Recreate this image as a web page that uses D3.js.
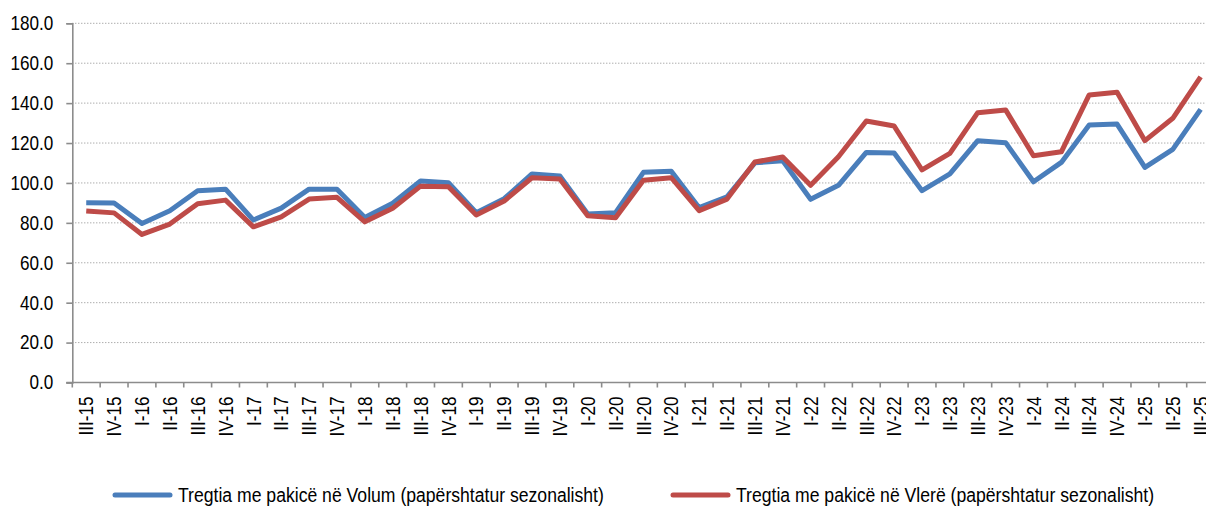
<!DOCTYPE html>
<html>
<head>
<meta charset="utf-8">
<script src="https://cdn.jsdelivr.net/npm/d3@7"></script>
<style>
  html, body { margin: 0; padding: 0; background: #fff; }
  svg { display: block; }
  text { font-family: "Liberation Sans", Arial, sans-serif; fill: #000; }
</style>
</head>
<body>
<svg id="chart" width="1206" height="508"></svg>
<script>
const quarters = [
  "III-15", "IV-15",
  "I-16", "II-16", "III-16", "IV-16",
  "I-17", "II-17", "III-17", "IV-17",
  "I-18", "II-18", "III-18", "IV-18",
  "I-19", "II-19", "III-19", "IV-19",
  "I-20", "II-20", "III-20", "IV-20",
  "I-21", "II-21", "III-21", "IV-21",
  "I-22", "II-22", "III-22", "IV-22",
  "I-23", "II-23", "III-23", "IV-23",
  "I-24", "II-24", "III-24", "IV-24",
  "I-25", "II-25", "III-25",
];

const volume = [
  90.1, 90.0,
  79.7, 86.1, 96.1, 96.9,
  81.4, 87.4, 96.9, 96.9,
  82.7, 89.8, 101.0, 100.1,
  85.1, 92.1, 104.5, 103.5,
  84.4, 85.1, 105.3, 105.8,
  87.6, 93.1, 110.1, 111.1,
  91.8, 98.8, 115.3, 115.0,
  96.1, 104.5, 121.2, 120.2,
  100.6, 110.3, 129.0, 129.5,
  107.8, 116.8, 136.9,
];

const value = [
  85.9, 85.0,
  74.2, 79.4, 89.6, 91.4,
  78.0, 83.0, 91.9, 92.8,
  80.5, 87.3, 98.4, 98.1,
  83.9, 90.9, 102.6, 102.0,
  83.6, 82.6, 101.3, 102.6,
  86.1, 91.9, 110.5, 113.0,
  98.8, 113.1, 131.0, 128.5,
  106.5, 114.8, 135.2, 136.6,
  113.6, 115.6, 144.1, 145.4,
  121.2, 132.4, 153.2,
];

const yTicks = [0, 20, 40, 60, 80, 100, 120, 140, 160, 180];

const seriesNames = [
  "Tregtia me pakicë në Volum (papërshtatur sezonalisht)",
  "Tregtia me pakicë në Vlerë (papërshtatur sezonalisht)",
];

const blue = "#4a7ebb";
const red = "#be4b48";
const axisGrey = "#8c8c8c";

const svg = d3.select("#chart");

const plotLeft = 72.3;
const step = 27.86;
const plotTop = 23.3;
const plotBottom = 382.5;

// the original uses a narrow face; squeeze Liberation Sans to match
const narrow = (sel, k = 0.855) =>
  sel.each(function () {
    const len = this.getComputedTextLength();
    d3.select(this)
      .attr("textLength", len * k)
      .attr("lengthAdjust", "spacingAndGlyphs");
  });

const x = d3
  .scaleBand()
  .domain(quarters)
  .range([plotLeft, plotLeft + step * quarters.length])
  .paddingInner(0)
  .paddingOuter(0);

const y = d3.scaleLinear().domain([0, 180]).range([plotBottom, plotTop]);

// gridlines
svg
  .append("g")
  .selectAll("line")
  .data(yTicks.filter((d) => d > 0))
  .join("line")
  .attr("x1", plotLeft)
  .attr("x2", 1206)
  .attr("y1", (d) => y(d))
  .attr("y2", (d) => y(d))
  .attr("stroke", "#8a8a8a")
  .attr("stroke-width", 1)
  .attr("stroke-dasharray", "1,2");

// y axis
const yAxis = d3
  .axisLeft(y)
  .tickValues(yTicks)
  .tickFormat(d3.format(".1f"))
  .tickSize(6)
  .tickPadding(13);

const gy = svg.append("g").attr("transform", `translate(${plotLeft},0)`).call(yAxis);
gy.select(".domain").attr("stroke", axisGrey).attr("stroke-width", 1.6);
gy.selectAll(".tick line").attr("stroke", axisGrey).attr("stroke-width", 1.6);
gy.selectAll(".tick text")
  .attr("font-size", 20)
  .attr("fill", "#000")
  .attr("font-family", null)
  .call(narrow);

// x axis: labels at band centres, ticks at band edges
const xAxis = d3.axisBottom(x).tickSize(0).tickPadding(0);
const gx = svg.append("g").attr("transform", `translate(0,${plotBottom})`).call(xAxis);
gx.select(".domain").remove();
gx.selectAll(".tick text")
  .attr("font-size", 20)
  .attr("fill", "#000")
  .attr("font-family", null)
  .attr("transform", "rotate(-90)")
  .attr("text-anchor", "end")
  .attr("x", -14)
  .attr("y", 0)
  .attr("dy", "0.36em")
  .call(narrow);

gx.append("line")
  .attr("x1", plotLeft - 6)
  .attr("x2", 1206)
  .attr("y1", 0)
  .attr("y2", 0)
  .attr("stroke", axisGrey)
  .attr("stroke-width", 1.6);

gx.selectAll(".edge")
  .data(quarters)
  .join("line")
  .attr("class", "edge")
  .attr("x1", (d) => x(d))
  .attr("x2", (d) => x(d))
  .attr("y1", 0)
  .attr("y2", 5)
  .attr("stroke", axisGrey)
  .attr("stroke-width", 1.6);

// lines
const line = d3
  .line()
  .x((d, i) => x(quarters[i]) + x.bandwidth() / 2)
  .y((d) => y(d));

for (const [data, color] of [[volume, blue], [value, red]])
  svg
    .append("path")
    .attr("fill", "none")
    .attr("stroke", color)
    .attr("stroke-width", 5)
    .attr("stroke-linejoin", "round")
    .attr("d", line(data));

// legend
const legend = [
  { name: seriesNames[0], color: blue, x0: 115 },
  { name: seriesNames[1], color: red, x0: 673 },
];

for (const { name, color, x0 } of legend) {
  svg
    .append("line")
    .attr("x1", x0)
    .attr("x2", x0 + 55)
    .attr("y1", 495)
    .attr("y2", 495)
    .attr("stroke", color)
    .attr("stroke-width", 5)
    .attr("stroke-linecap", "round");
  svg
    .append("text")
    .text(name)
    .attr("x", x0 + 63)
    .attr("y", 495)
    .attr("dy", "0.35em")
    .attr("font-size", 20)
    .call(narrow, 0.88);
}
</script>
</body>
</html>
